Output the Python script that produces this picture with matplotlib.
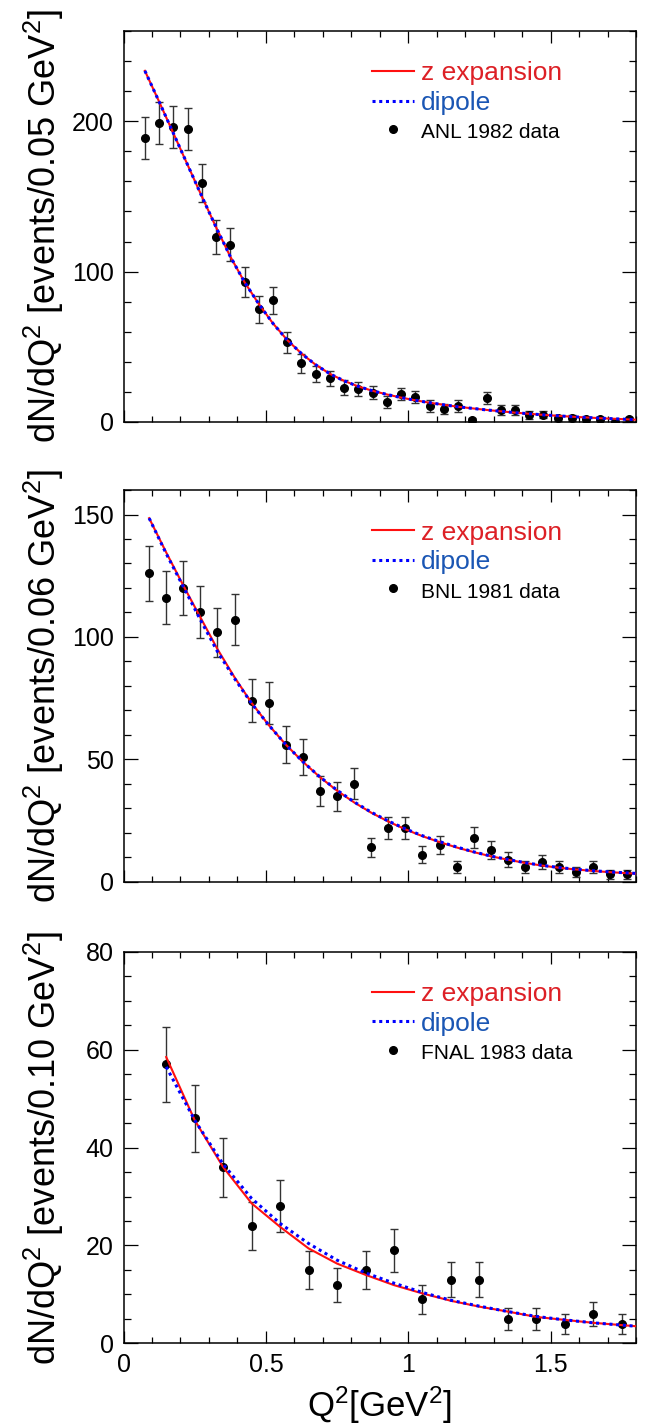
import matplotlib
matplotlib.use('Agg')
import matplotlib.pyplot as plt
from matplotlib.ticker import MultipleLocator

plt.rcParams['font.family'] = ['Liberation Sans', 'DejaVu Sans']
plt.rcParams['mathtext.fontset'] = 'custom'
plt.rcParams['mathtext.rm'] = 'Liberation Sans'
plt.rcParams['mathtext.it'] = 'Liberation Sans:italic'
plt.rcParams['mathtext.bf'] = 'Liberation Sans:bold'

# ANL 1982 data, bins of 0.05 GeV^2
anl_q2 = [0.075, 0.125, 0.175, 0.225, 0.275, 0.325, 0.375, 0.425, 0.475, 0.525,
          0.575, 0.625, 0.675, 0.725, 0.775, 0.825, 0.875, 0.925, 0.975, 1.025,
          1.075, 1.125, 1.175, 1.225, 1.275, 1.325, 1.375, 1.425, 1.475, 1.525,
          1.575, 1.625, 1.675, 1.725, 1.775]
anl_n = [189, 199, 196, 195, 159, 123, 118, 93, 75, 81,
         53, 39, 32, 29, 22.6, 21.7, 19.5, 13.5, 18.6, 16.6,
         10.6, 8.6, 10.6, 1.3, 15.7, 7.8, 7.8, 4.7, 4.9, 2.9,
         2.9, 1.8, 2.0, 0.0, 1.8]
anl_err = [14, 14, 14, 14, 12.6, 11, 11, 10, 9, 9,
           7, 6.5, 5.5, 5, 5, 4.7, 4.4, 4, 4.3, 4.3,
           3.7, 3.4, 3.7, 1.2, 4, 3.3, 3.3, 2.5, 2.5, 2,
           2, 1.5, 1.5, 1, 1.5]
anl_curve_q2 = [0.075, 0.125, 0.175, 0.225, 0.275, 0.325, 0.375, 0.425, 0.475, 0.525,
                0.575, 0.625, 0.675, 0.725, 0.775, 0.825, 0.875, 0.925, 0.975, 1.025,
                1.075, 1.125, 1.175, 1.275, 1.375, 1.475, 1.575, 1.675, 1.8]
anl_zexp = [233.5, 213, 192, 171, 150, 129.5, 110, 93, 78.5, 65.5,
            54.5, 45.5, 38, 32, 27.3, 23.6, 20.7, 18.3, 16.2, 14.4,
            12.8, 11.4, 10.1, 8.0, 6.2, 4.7, 3.5, 2.5, 1.5]
anl_dipole = [233.5, 213, 192, 171, 150, 129.5, 110, 93, 78.5, 65.5,
              54.5, 45.5, 38, 32, 27.3, 23.6, 20.7, 18.3, 16.2, 14.4,
              12.8, 11.4, 10.1, 8.0, 6.2, 4.7, 3.5, 2.5, 1.5]

# BNL 1981 data, bins of 0.06 GeV^2
bnl_q2 = [0.09, 0.15, 0.21, 0.27, 0.33, 0.39, 0.45, 0.51, 0.57, 0.63,
          0.69, 0.75, 0.81, 0.87, 0.93, 0.99, 1.05, 1.11, 1.17, 1.23,
          1.29, 1.35, 1.41, 1.47, 1.53, 1.59, 1.65, 1.71, 1.77]
bnl_n = [126, 116, 120, 110, 102, 107, 74, 73, 56, 51,
         37, 35, 40, 14, 22, 22, 11, 15, 6, 18,
         13, 9, 6, 8, 6, 4, 6, 3, 3]
bnl_err = [11.2, 10.8, 11, 10.6, 10, 10.4, 8.7, 8.6, 7.6, 7.2,
           6, 5.9, 6.3, 3.7, 4.6, 4.6, 3.4, 3.8, 2.5, 4.2,
           3.6, 3, 2.5, 2.9, 2.5, 2.2, 2.5, 1.8, 1.8]
bnl_curve_q2 = [0.09, 0.15, 0.21, 0.27, 0.33, 0.39, 0.45, 0.51, 0.57, 0.63,
                0.69, 0.75, 0.81, 0.87, 0.93, 0.99, 1.05, 1.11, 1.17, 1.23,
                1.29, 1.35, 1.41, 1.47, 1.53, 1.59, 1.65, 1.71, 1.8]
bnl_zexp = [148.5, 134.5, 121, 108, 95, 83.5, 73, 64, 56, 49,
            42.7, 37.2, 32.4, 28.2, 24.6, 21.4, 18.6, 16.2, 14, 12.1,
            10.4, 9, 7.7, 6.6, 5.7, 5.0, 4.4, 3.9, 3.3]
bnl_dipole = [148.5, 134, 120.5, 107, 94, 83, 72.8, 64, 56, 49,
              42.8, 37.4, 32.6, 28.4, 24.8, 21.6, 18.8, 16.4, 14.2, 12.2,
              10.5, 9.1, 7.8, 6.7, 5.8, 5.1, 4.5, 4.0, 3.4]

# FNAL 1983 data, bins of 0.10 GeV^2
fnal_q2 = [0.15, 0.25, 0.35, 0.45, 0.55, 0.65, 0.75, 0.85, 0.95, 1.05,
           1.15, 1.25, 1.35, 1.45, 1.55, 1.65, 1.75]
fnal_n = [57, 46, 36, 24, 28, 15, 12, 15, 19, 9, 13, 13, 5, 5, 4, 6, 4]
fnal_err = [7.6, 6.8, 6, 4.9, 5.3, 3.9, 3.5, 3.9, 4.4, 3, 3.6, 3.6, 2.2, 2.2, 2, 2.5, 2]
fnal_curve_q2 = [0.15, 0.25, 0.35, 0.45, 0.55, 0.65, 0.75, 0.85, 0.95, 1.05,
                 1.15, 1.25, 1.35, 1.45, 1.55, 1.65, 1.8]
fnal_zexp = [58.5, 45.6, 36, 28.6, 23.8, 19.4, 16.3, 14.0, 11.9, 10.2,
             8.7, 7.5, 6.5, 5.4, 4.8, 4.2, 3.5]
fnal_dipole = [56.5, 45.6, 36.6, 29.6, 24.5, 20.4, 17.0, 14.4, 12.3, 10.4,
               8.8, 7.6, 6.5, 5.5, 4.8, 4.2, 3.5]

panels = [
    dict(q2=anl_q2, n=anl_n, err=anl_err, cq2=anl_curve_q2, zexp=anl_zexp, dip=anl_dipole,
         label='ANL 1982 data', ylabel=r'dN/dQ$^{2}$ [events/0.05 GeV$^{2}$]',
         ymax=260, major=100, minor=20, rect=[0.1915, 0.7043, 0.7946, 0.2740]),
    dict(q2=bnl_q2, n=bnl_n, err=bnl_err, cq2=bnl_curve_q2, zexp=bnl_zexp, dip=bnl_dipole,
         label='BNL 1981 data', ylabel=r'dN/dQ$^{2}$ [events/0.06 GeV$^{2}$]',
         ymax=160, major=50, minor=10, rect=[0.1915, 0.3821, 0.7946, 0.2745]),
    dict(q2=fnal_q2, n=fnal_n, err=fnal_err, cq2=fnal_curve_q2, zexp=fnal_zexp, dip=fnal_dipole,
         label='FNAL 1983 data', ylabel=r'dN/dQ$^{2}$ [events/0.10 GeV$^{2}$]',
         ymax=80, major=20, minor=5, rect=[0.1915, 0.0586, 0.7946, 0.2744]),
]

fig = plt.figure(figsize=(6.45, 14.27), dpi=100)

for i, p in enumerate(panels):
    ax = fig.add_axes(p['rect'])

    ax.errorbar(p['q2'], p['n'], yerr=p['err'], fmt='none', ecolor='#333333',
                elinewidth=1.0, capsize=3, capthick=1.0, zorder=2)
    pts, = ax.plot(p['q2'], p['n'], 'o', color='black', markersize=5.5, zorder=3)
    zl, = ax.plot(p['cq2'], p['zexp'], '-', color='#ff1010', lw=1.5, zorder=4)
    dl, = ax.plot(p['cq2'], p['dip'], color='#0000ff', lw=2.2,
                  linestyle=(0, (1, 1.2)), zorder=5)

    ax.set_xlim(0, 1.8)
    ax.set_ylim(0, p['ymax'])
    ax.xaxis.set_major_locator(MultipleLocator(0.5))
    ax.xaxis.set_minor_locator(MultipleLocator(0.1))
    ax.yaxis.set_major_locator(MultipleLocator(p['major']))
    ax.yaxis.set_minor_locator(MultipleLocator(p['minor']))
    ax.xaxis.set_major_formatter(plt.FuncFormatter(lambda v, pos: '%g' % v))

    ax.tick_params(axis='x', which='major', direction='in', top=True, length=8.6,
                   width=0.9, labelsize=18, pad=7)
    ax.tick_params(axis='x', which='minor', direction='in', top=True, length=4.3, width=0.9)
    ax.tick_params(axis='y', which='major', direction='in', right=True, length=10,
                   width=0.9, labelsize=18, pad=7)
    ax.tick_params(axis='y', which='minor', direction='in', right=True, length=5, width=0.9)
    for s in ax.spines.values():
        s.set_linewidth(1.1)

    if i < 2:
        ax.tick_params(axis='x', labelbottom=False)
    else:
        ax.set_xlabel(r'Q$^{2}$[GeV$^{2}$]', fontsize=25)
        ax.xaxis.set_label_coords(0.5, -0.105)

    ax.set_ylabel(p['ylabel'], fontsize=26)
    ax.yaxis.set_label_coords(-0.112, 0.5)

    leg = ax.legend([zl, dl, pts], ['z expansion', 'dipole', p['label']],
                    loc='upper left', bbox_to_anchor=(0.485, 0.922), frameon=False,
                    fontsize=19, handlelength=1.6, handletextpad=0.25,
                    labelspacing=0.2, borderpad=0, borderaxespad=0, numpoints=1)
    txt = leg.get_texts()
    txt[0].set_color('#dd2026')
    txt[1].set_color('#1a56b4')
    txt[2].set_fontsize(15)

fig.savefig('out.png', dpi=100)
